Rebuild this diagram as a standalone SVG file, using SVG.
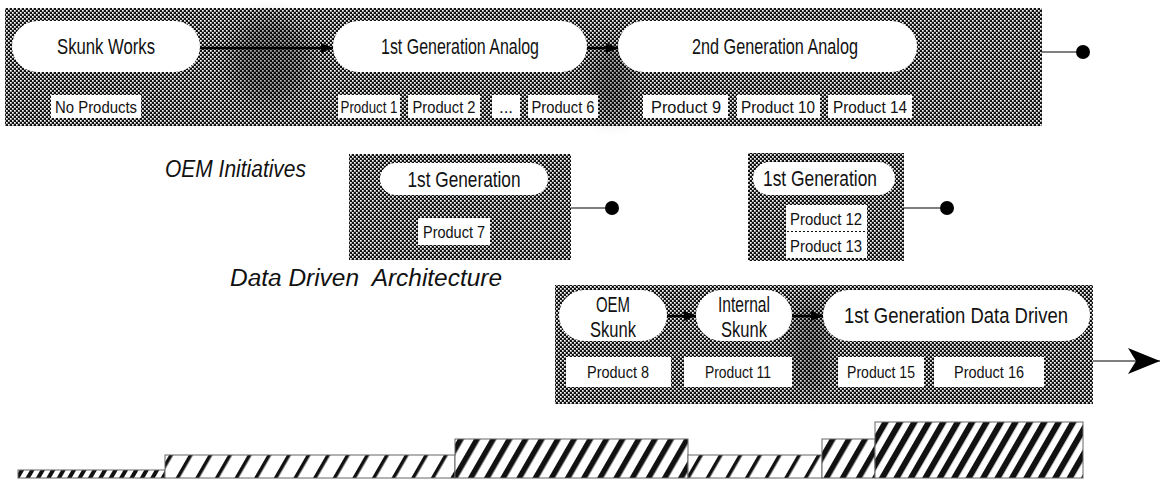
<svg xmlns="http://www.w3.org/2000/svg" width="1162" height="480" viewBox="0 0 1162 480">
  <defs>
    <!-- halftone screen used for the phase bands -->
    <pattern id="screen" width="4" height="4" patternUnits="userSpaceOnUse">
      <rect width="4" height="4" fill="#111"/>
      <rect x="0" y="0" width="1.7" height="1.7" fill="#ffffff"/>
      <rect x="2" y="2" width="1.7" height="1.7" fill="#ffffff"/>
    </pattern>
    <!-- diagonal hatches for the step chart -->
    <pattern id="hatchFine" width="9" height="9" patternUnits="userSpaceOnUse" patternTransform="rotate(30)">
      <rect width="9" height="9" fill="#fff"/>
      <rect width="4" height="9" fill="#111"/>
    </pattern>
    <pattern id="hatchLight" width="17" height="17" patternUnits="userSpaceOnUse" patternTransform="rotate(30)">
      <rect width="17" height="17" fill="#fff"/>
      <rect width="3.5" height="17" fill="#111"/>
    </pattern>
    <pattern id="hatchMid" width="14" height="14" patternUnits="userSpaceOnUse" patternTransform="rotate(30)">
      <rect width="14" height="14" fill="#fff"/>
      <rect width="5.5" height="14" fill="#111"/>
    </pattern>
    <pattern id="hatchBold" width="12.5" height="12.5" patternUnits="userSpaceOnUse" patternTransform="rotate(30)">
      <rect width="12.5" height="12.5" fill="#fff"/>
      <rect width="6" height="12.5" fill="#111"/>
    </pattern>
    <filter id="smudge" x="-50%" y="-50%" width="200%" height="200%">
      <feGaussianBlur stdDeviation="10"/>
    </filter>
    <marker id="tri" viewBox="0 0 12 10" refX="12" refY="5" markerWidth="12" markerHeight="10" markerUnits="userSpaceOnUse" orient="auto">
      <path d="M0,0 L12,5 L0,10 Z" fill="#000"/>
    </marker>
    <marker id="bigHead" viewBox="0 0 32 26" refX="32" refY="13" markerWidth="32" markerHeight="26" markerUnits="userSpaceOnUse" orient="auto">
      <path d="M0,0 L32,13 L0,26 L8,13 Z" fill="#000"/>
    </marker>
    <style>
      .band { fill: url(#screen); }
      .pill { fill: #fff; }
      .prod { fill: #fff; }
      .t { font-family: "Liberation Sans Narrow", "Liberation Sans", Arial, sans-serif; fill: #111; text-anchor: middle; }
      .tp { font-size: 22px; }
      .tb { font-size: 17px; }
      .lbl { font-family: "Liberation Sans Narrow", "Liberation Sans", Arial, sans-serif; font-style: italic; font-size: 23px; fill: #111; }
      .conn { stroke: #000; stroke-width: 1.2; fill: none; }
      .thick { stroke: #000; stroke-width: 2.5; fill: none; }
      .dot { fill: #000; }
      .bar { stroke: #666; stroke-width: 1; }
      .smudge { fill: #000; opacity: 0.3; filter: url(#smudge); }
    </style>
  </defs>

  <!-- Analog product line -->
  <g id="analog-line">
    <rect class="band" x="5" y="8" width="1037" height="118"/>
    <ellipse class="smudge" cx="270" cy="60" rx="40" ry="42"/>
    <ellipse class="smudge" cx="612" cy="80" rx="20" ry="38"/>
  </g>
  <g id="skunk-works">
    <rect class="pill" x="12" y="21" width="188" height="51" rx="25.5"/>
    <text class="t tp" x="106" y="54" textLength="98" lengthAdjust="spacingAndGlyphs">Skunk Works</text>
    <rect class="prod" x="51" y="95" width="90" height="23"/>
    <text class="t tb" x="96" y="113" textLength="82" lengthAdjust="spacingAndGlyphs">No Products</text>
  </g>
  <g id="gen1-analog">
    <rect class="pill" x="333" y="21" width="254" height="51" rx="25.5"/>
    <text class="t tp" x="460" y="54" textLength="158" lengthAdjust="spacingAndGlyphs">1st Generation Analog</text>
    <rect class="prod" x="338" y="95" width="62" height="23"/>
    <text class="t tb" x="369" y="113" textLength="57" lengthAdjust="spacingAndGlyphs">Product 1</text>
    <rect class="prod" x="408" y="95" width="72" height="23"/>
    <text class="t tb" x="444" y="113" textLength="63" lengthAdjust="spacingAndGlyphs">Product 2</text>
    <rect class="prod" x="492" y="95" width="28" height="23"/>
    <text class="t tb" x="506" y="113">...</text>
    <rect class="prod" x="528" y="95" width="70" height="23"/>
    <text class="t tb" x="563" y="113" textLength="63" lengthAdjust="spacingAndGlyphs">Product 6</text>
  </g>
  <g id="gen2-analog">
    <rect class="pill" x="618" y="21" width="299" height="51" rx="25.5"/>
    <text class="t tp" x="775" y="54" textLength="166" lengthAdjust="spacingAndGlyphs">2nd Generation Analog</text>
    <rect class="prod" x="643" y="95" width="85" height="23"/>
    <text class="t tb" x="686" y="113" textLength="70" lengthAdjust="spacingAndGlyphs">Product 9</text>
    <rect class="prod" x="737" y="95" width="83" height="23"/>
    <text class="t tb" x="778" y="113" textLength="74" lengthAdjust="spacingAndGlyphs">Product 10</text>
    <rect class="prod" x="828" y="95" width="84" height="23"/>
    <text class="t tb" x="870" y="113" textLength="74" lengthAdjust="spacingAndGlyphs">Product 14</text>
  </g>

  <!-- OEM initiatives -->
  <g id="oem-label">
    <text class="lbl" x="165" y="177" textLength="141" lengthAdjust="spacingAndGlyphs">OEM Initiatives</text>
  </g>
  <g id="oem-gen1-a">
    <rect class="band" x="349" y="154" width="222" height="106"/>
    <rect class="pill" x="380" y="163" width="168" height="32" rx="16"/>
    <text class="t tp" x="464" y="187" textLength="113" lengthAdjust="spacingAndGlyphs">1st Generation</text>
    <rect class="prod" x="418" y="218" width="72" height="27"/>
    <text class="t tb" x="454" y="238" textLength="62" lengthAdjust="spacingAndGlyphs">Product 7</text>
  </g>
  <g id="oem-gen1-b">
    <rect class="band" x="748" y="153" width="156" height="108"/>
    <rect class="pill" x="753" y="162" width="142" height="33" rx="16.5"/>
    <text class="t tp" x="820" y="186" textLength="114" lengthAdjust="spacingAndGlyphs">1st Generation</text>
    <rect class="prod" x="786" y="205" width="81" height="53"/>
    <line x1="787" y1="231.5" x2="866" y2="231.5" stroke="#111" stroke-width="1.2" stroke-dasharray="2 2"/>
    <text class="t tb" x="826" y="225" textLength="72" lengthAdjust="spacingAndGlyphs">Product 12</text>
    <text class="t tb" x="826" y="252" textLength="72" lengthAdjust="spacingAndGlyphs">Product 13</text>
  </g>

  <!-- Data driven architecture -->
  <g id="dd-label">
    <text class="lbl" x="230" y="286" textLength="272" lengthAdjust="spacingAndGlyphs" xml:space="preserve">Data Driven  Architecture</text>
  </g>
  <g id="data-driven">
    <rect class="band" x="555" y="285" width="538" height="119"/>
    <ellipse class="smudge" cx="810" cy="345" rx="18" ry="48"/>
  </g>
  <g id="oem-skunk">
    <rect class="pill" x="559" y="290" width="108" height="51" rx="25.5"/>
    <text class="t tp" x="613" y="312" textLength="34" lengthAdjust="spacingAndGlyphs">OEM</text>
    <text class="t tp" x="613" y="337" textLength="46" lengthAdjust="spacingAndGlyphs">Skunk</text>
    <rect class="prod" x="566" y="357" width="105" height="30"/>
    <text class="t tb" x="618" y="378" textLength="62" lengthAdjust="spacingAndGlyphs">Product 8</text>
  </g>
  <g id="internal-skunk">
    <rect class="pill" x="696" y="290" width="96" height="51" rx="25.5"/>
    <text class="t tp" x="744" y="312" textLength="52" lengthAdjust="spacingAndGlyphs">Internal</text>
    <text class="t tp" x="744" y="337" textLength="46" lengthAdjust="spacingAndGlyphs">Skunk</text>
    <rect class="prod" x="684" y="357" width="108" height="30"/>
    <text class="t tb" x="738" y="378" textLength="66" lengthAdjust="spacingAndGlyphs">Product 11</text>
  </g>
  <g id="gen1-dd">
    <rect class="pill" x="823" y="290" width="267" height="51" rx="25.5"/>
    <text class="t tp" x="956" y="323" textLength="224" lengthAdjust="spacingAndGlyphs">1st Generation Data Driven</text>
    <rect class="prod" x="838" y="357" width="86" height="30"/>
    <text class="t tb" x="881" y="378" textLength="68" lengthAdjust="spacingAndGlyphs">Product 15</text>
    <rect class="prod" x="934" y="357" width="110" height="30"/>
    <text class="t tb" x="989" y="378" textLength="70" lengthAdjust="spacingAndGlyphs">Product 16</text>
  </g>

  <!-- connectors -->
  <g id="connectors">
    <line class="thick" x1="200" y1="48" x2="333" y2="48" marker-end="url(#tri)"/>
    <line class="thick" x1="587" y1="48" x2="618" y2="48" marker-end="url(#tri)"/>
    <line class="conn" x1="1042" y1="52" x2="1078" y2="52"/>
    <circle class="dot" cx="1083" cy="52" r="7"/>
    <line class="conn" x1="571" y1="208" x2="607" y2="208"/>
    <circle class="dot" cx="612" cy="208" r="7"/>
    <line class="conn" x1="904" y1="208" x2="940" y2="208"/>
    <circle class="dot" cx="947" cy="208" r="7"/>
    <line class="thick" x1="667" y1="316" x2="696" y2="316" marker-end="url(#tri)"/>
    <line class="thick" x1="792" y1="316" x2="823" y2="316" marker-end="url(#tri)"/>
    <line class="conn" x1="1093" y1="361" x2="1160" y2="361" marker-end="url(#bigHead)"/>
  </g>

  <!-- staffing step chart -->
  <g id="step-chart">
    <rect class="bar" x="18" y="470" width="147" height="8" fill="url(#hatchFine)"/>
    <rect class="bar" x="165" y="455" width="290" height="23" fill="url(#hatchLight)"/>
    <rect class="bar" x="455" y="439" width="233" height="39" fill="url(#hatchMid)"/>
    <rect class="bar" x="688" y="455" width="134" height="23" fill="url(#hatchLight)"/>
    <rect class="bar" x="822" y="439" width="53" height="39" fill="url(#hatchMid)"/>
    <rect class="bar" x="875" y="422" width="208" height="56" fill="url(#hatchBold)"/>
  </g>
</svg>
